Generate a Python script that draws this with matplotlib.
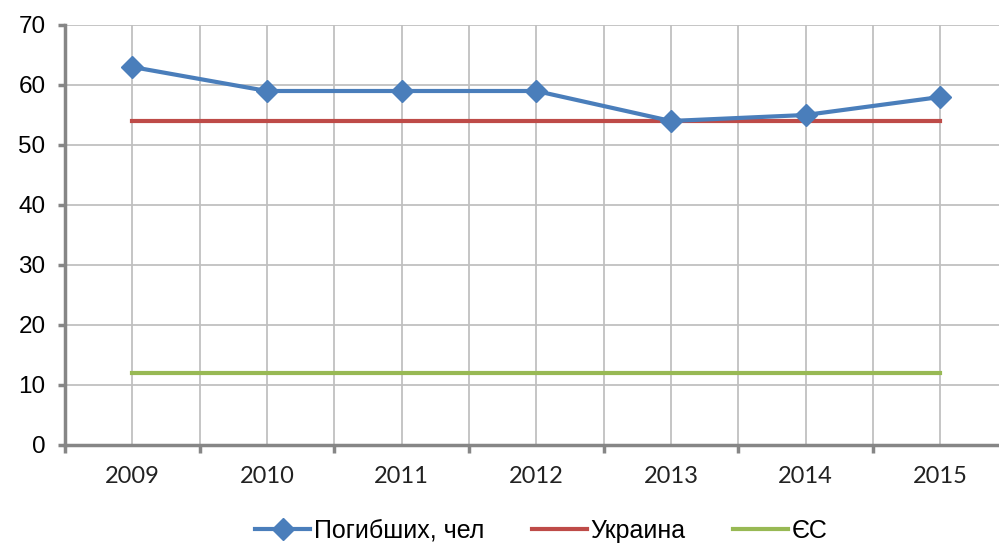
import numpy as np
import matplotlib.pyplot as plt

years = ["2009", "2010", "2011", "2012", "2013", "2014", "2015"]
deaths = [63, 59, 59, 59, 54, 55, 58]
ukraine = [54, 54, 54, 54, 54, 54, 54]
eu = [12, 12, 12, 12, 12, 12, 12]

fig = plt.figure(figsize=(9.99, 5.47), dpi=100)
ax = fig.add_axes([0.0651, 0.1865, 0.9434, 0.7678])

x = np.arange(len(years))
ax.plot(x, deaths, color="#4A7EBB", lw=3, marker="D", markersize=11,
        label="Погибших, чел", zorder=4)
ax.plot(x, ukraine, color="#BE4B48", lw=3, label="Украина", zorder=3)
ax.plot(x, eu, color="#98B954", lw=3, label="ЄС", zorder=3)

ax.set_xlim(-0.5, len(years) - 0.5)
ax.set_ylim(0, 70)
ax.set_yticks(range(0, 71, 10))
ax.set_xticks(x)
ax.set_xticklabels(years, fontfamily="Lato", fontsize=17, color="#222222")
ax.set_xticks(np.arange(-0.5, len(years), 1), minor=True)
ax.tick_params(axis="x", which="major", length=0, pad=15)
ax.tick_params(axis="x", which="minor", length=5.5, width=2.5, color="#868686")
ax.tick_params(axis="y", length=5, width=2.5, color="#868686", labelsize=17.5, pad=9)
for lab in ax.get_yticklabels():
    lab.set_fontfamily("Liberation Sans")

ax.grid(True, which="both", color="#C0C0C0", lw=1.3)
ax.set_axisbelow(True)
for s in ["top", "right"]:
    ax.spines[s].set_visible(False)
for s in ["left", "bottom"]:
    ax.spines[s].set_color("#868686")
    ax.spines[s].set_linewidth(2.5)

fig.legend(loc="center", bbox_to_anchor=(0.542, 0.03), ncol=3, frameon=False,
           prop={"family": "Liberation Sans", "size": 18}, handlelength=2.2,
           columnspacing=1.9, handletextpad=0.15)

fig.savefig("out.png", dpi=100)
